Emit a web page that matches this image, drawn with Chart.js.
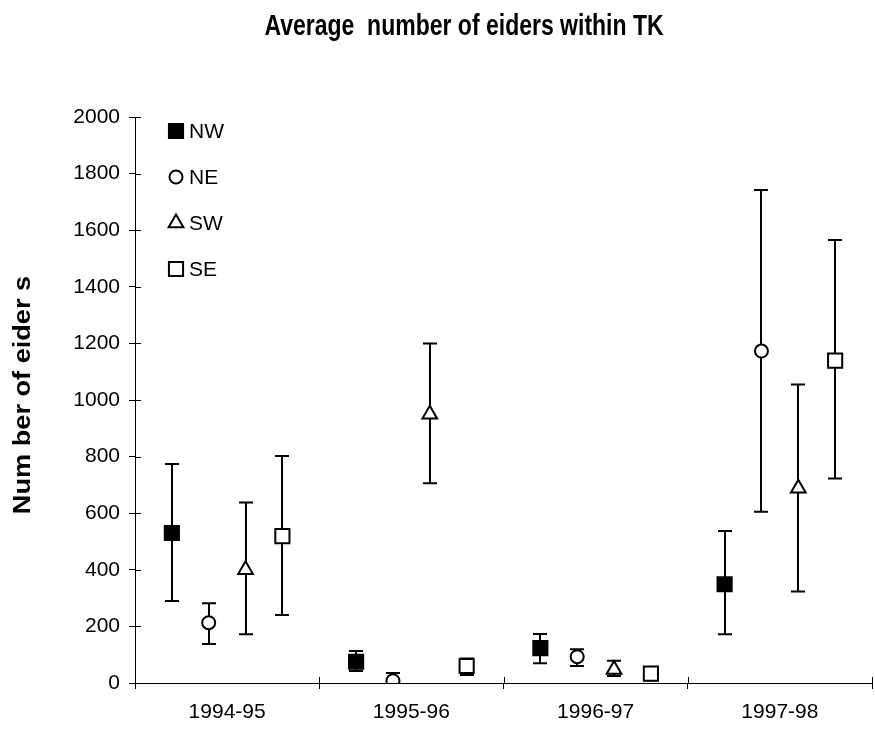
<!DOCTYPE html>
<html>
<head>
<meta charset="utf-8">
<title>Average number of eiders within TK</title>
<script src="https://cdn.jsdelivr.net/npm/chart.js@4.4.0/dist/chart.umd.min.js"></script>
<style>
  html, body { margin: 0; padding: 0; background: #fff; }
</style>
</head>
<body>
<canvas id="eiders" width="875" height="733"></canvas>
<script>
// winters on the x axis
const categories = ['1994-95', '1995-96', '1996-97', '1997-98'];

// mean counts per area, with the error bar ends
const nwMean = [530, 75, 123, 349];
const nwLow = [290, 42, 70, 172];
const nwHigh = [774, 113, 173, 537];

const neMean = [213, 8, 93, 1173];
const neLow = [138, 0, 60, 605];
const neHigh = [282, 35, 119, 1742];

const swMean = [400, 950, 48, 688];
const swLow = [172, 706, 25, 323];
const swHigh = [638, 1200, 79, 1055];

const seMean = [519, 60, 33, 1139];
const seLow = [240, 28, 10, 723];
const seHigh = [802, 87, 55, 1565];

const yTicks = [0, 200, 400, 600, 800, 1000, 1200, 1400, 1600, 1800, 2000];

const chartTitle = 'Average  number of eiders within TK';
const yTitle = 'Num ber of eider s';

const FONT = "'Liberation Sans', Arial, sans-serif";

function series(label, mean, low, high, slot, style) {
  return {
    label,
    data: mean.map((v, i) => ({ x: i + slot, y: v })),
    errLow: low,
    errHigh: high,
    pointStyle: style.shape,
    pointRadius: style.radius,
    pointHoverRadius: style.radius,
    pointBackgroundColor: style.fill,
    pointBorderColor: '#000',
    pointBorderWidth: 2,
    showLine: false
  };
}

// error bars go under the markers
const errorBars = {
  id: 'errorBars',
  beforeDatasetsDraw(chart) {
    const { ctx, scales: { x, y } } = chart;
    ctx.save();
    ctx.strokeStyle = '#000';
    ctx.lineWidth = 2;
    chart.data.datasets.forEach(ds => {
      ds.data.forEach((pt, i) => {
        const px = Math.round(x.getPixelForValue(pt.x));
        const top = y.getPixelForValue(ds.errHigh[i]);
        const bot = y.getPixelForValue(ds.errLow[i]);
        ctx.beginPath();
        ctx.moveTo(px, top); ctx.lineTo(px, bot);
        ctx.moveTo(px - 7, top); ctx.lineTo(px + 7, top);
        ctx.moveTo(px - 7, bot); ctx.lineTo(px + 7, bot);
        ctx.stroke();
      });
    });
    ctx.restore();
  }
};

// excel style cross ticks: the inner half of each tick mark
const innerTicks = {
  id: 'innerTicks',
  afterDraw(chart) {
    const { ctx, chartArea, scales: { x, y } } = chart;
    ctx.save();
    ctx.strokeStyle = '#000';
    ctx.lineWidth = 1;
    ctx.beginPath();
    y.ticks.forEach(t => {
      const py = Math.round(y.getPixelForValue(t.value)) + 0.5;
      ctx.moveTo(chartArea.left, py);
      ctx.lineTo(chartArea.left + 6, py);
    });
    x.ticks.forEach(t => {
      if (Number.isInteger(t.value)) return;
      const px = Math.round(x.getPixelForValue(t.value)) + 0.5;
      ctx.moveTo(px, chartArea.bottom);
      ctx.lineTo(px, chartArea.bottom - 6);
    });
    ctx.stroke();
    ctx.restore();
  }
};

// legend sits inside the plot, top left
const insideLegend = {
  id: 'insideLegend',
  afterDraw(chart) {
    const { ctx, chartArea } = chart;
    const mx = chartArea.left + 41;
    ctx.save();
    ctx.font = '21px ' + FONT;
    ctx.textBaseline = 'middle';
    ctx.fillStyle = '#000';
    chart.data.datasets.forEach((ds, i) => {
      const my = chartArea.top + 14 + i * 46;
      ctx.save();
      ctx.fillStyle = ds.pointBackgroundColor;
      ctx.strokeStyle = '#000';
      ctx.lineWidth = 2;
      Chart.helpers.drawPoint(ctx, {
        pointStyle: ds.pointStyle,
        radius: ds.pointRadius,
        borderWidth: 2,
        rotation: 0
      }, mx, my);
      ctx.restore();
      ctx.fillText(ds.label, mx + 13, my + 1);
    });
    ctx.restore();
  }
};

// the old excel titles are drawn narrow and tall, so they get stretched here
const stretchedTitles = {
  id: 'stretchedTitles',
  afterDraw(chart) {
    const { ctx, chartArea } = chart;
    ctx.save();
    ctx.fillStyle = '#000';
    ctx.font = 'bold 23px ' + FONT;
    ctx.textAlign = 'center';
    ctx.textBaseline = 'middle';
    ctx.translate(chartArea.left + 329, 27);
    ctx.scale(1, 1.3);
    ctx.fillText(chartTitle, 0, 0);
    ctx.restore();

    ctx.save();
    ctx.fillStyle = '#000';
    ctx.font = 'bold 23px ' + FONT;
    ctx.textAlign = 'center';
    ctx.textBaseline = 'middle';
    ctx.translate(24, (chartArea.top + chartArea.bottom) / 2 - 5);
    ctx.rotate(-Math.PI / 2);
    ctx.scale(1.18, 1);
    ctx.fillText(yTitle, 0, 0);
    ctx.restore();
  }
};

new Chart(document.getElementById('eiders'), {
  type: 'scatter',
  data: {
    datasets: [
      series('NW', nwMean, nwLow, nwHigh, -0.3, { shape: 'rect', radius: 10, fill: '#000' }),
      series('NE', neMean, neLow, neHigh, -0.1, { shape: 'circle', radius: 6.5, fill: '#fff' }),
      series('SW', swMean, swLow, swHigh, 0.1, { shape: 'triangle', radius: 8.5, fill: '#fff' }),
      series('SE', seMean, seLow, seHigh, 0.3, { shape: 'rect', radius: 10, fill: '#fff' })
    ]
  },
  options: {
    responsive: false,
    animation: false,
    events: [],
    layout: { autoPadding: false, padding: { top: 117, right: 3, bottom: 0, left: 0 } },
    plugins: {
      legend: { display: false },
      tooltip: { enabled: false },
      title: { display: false }
    },
    scales: {
      x: {
        type: 'linear',
        min: -0.5,
        max: 3.5,
        afterFit(scale) {
          scale.height = 50;
          scale.paddingLeft = 0;
          scale.paddingRight = 0;
        },
        afterBuildTicks(scale) {
          const ticks = [];
          for (let i = 0; i <= categories.length * 2; i++) ticks.push({ value: -0.5 + i / 2 });
          scale.ticks = ticks;
        },
        ticks: {
          autoSkip: false,
          maxRotation: 0,
          color: '#000',
          padding: 11,
          font: { family: FONT, size: 21 },
          callback: v => Number.isInteger(v) ? categories[v] : ''
        },
        grid: {
          drawOnChartArea: false,
          tickLength: 6,
          tickColor: ctx => (ctx.tick && Number.isInteger(ctx.tick.value)) ? 'rgba(0,0,0,0)' : '#000'
        },
        border: { display: true, color: '#000', width: 1 }
      },
      y: {
        min: 0,
        max: 2000,
        afterFit(scale) { scale.width = 135; },
        afterBuildTicks(scale) {
          scale.ticks = yTicks.map(v => ({ value: v }));
        },
        ticks: {
          color: '#000',
          padding: 9,
          font: { family: FONT, size: 21 },
          callback: v => String(v)
        },
        grid: { drawOnChartArea: false, tickLength: 6, tickColor: '#000' },
        border: { display: true, color: '#000', width: 1 }
      }
    }
  },
  plugins: [errorBars, innerTicks, insideLegend, stretchedTitles]
});
</script>
</body>
</html>
